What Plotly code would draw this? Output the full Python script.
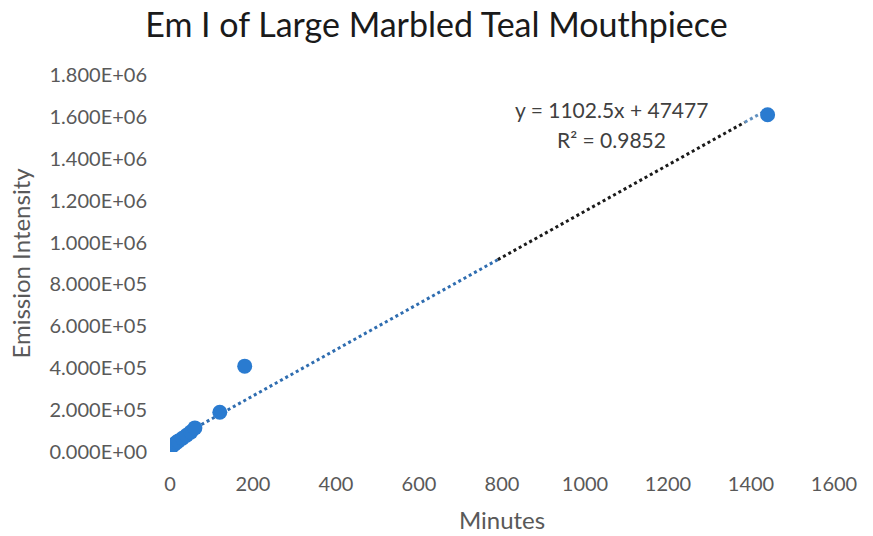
import plotly.graph_objects as go

minutes = [0, 5, 10, 15, 20, 30, 40, 50, 60, 120, 180, 1440]
intensity = [20000, 28000, 36000, 45000, 52000, 66000, 80000, 95000, 115000, 190000, 410000, 1610000]

slope = 1102.5
intercept = 47477
r_squared = 0.9852

y_tickvals = [0, 200000, 400000, 600000, 800000, 1000000, 1200000, 1400000, 1600000, 1800000]
y_ticktext = ["0.000E+00", "2.000E+05", "4.000E+05", "6.000E+05", "8.000E+05",
              "1.000E+06", "1.200E+06", "1.400E+06", "1.600E+06", "1.800E+06"]
x_tickvals = [0, 200, 400, 600, 800, 1000, 1200, 1400, 1600]

FONT = "Lato"
fig = go.Figure()

# trendline segments (color varies along the line in the reference)
segments = [(0, 790, "#2f6db0"), (790, 1385, "#1a1a1a"), (1385, max(minutes), "#5f8fbf")]
for x0, x1, col in segments:
    fig.add_trace(go.Scatter(
        x=[x0, x1], y=[slope * x0 + intercept, slope * x1 + intercept],
        mode="lines", line=dict(color=col, width=3, dash="dot"),
        hoverinfo="skip", showlegend=False))

fig.add_trace(go.Scatter(
    x=minutes, y=intensity, mode="markers",
    marker=dict(color="#2a7bd0", size=15),
    showlegend=False))

fig.add_annotation(x=1064, y=1.635e6, xref="x", yref="y",
                   text=f"y = {slope}x + {intercept}", showarrow=False,
                   font=dict(family=FONT, size=21, color="#404040"))
fig.add_annotation(x=1064, y=1.49e6, xref="x", yref="y",
                   text=f"R² = {r_squared}", showarrow=False,
                   font=dict(family=FONT, size=21, color="#404040"))

fig.update_layout(
    width=873, height=536,
    margin=dict(l=170, r=39, t=75, b=84),
    paper_bgcolor="white", plot_bgcolor="white",
    title=dict(text="Em I of Large Marbled Teal Mouthpiece", x=0.5, xanchor="center",
               y=0.953, yanchor="middle",
               font=dict(family=FONT, size=34, color="#1a1a1a")),
    xaxis=dict(range=[0, 1600], tickvals=x_tickvals, showgrid=False, zeroline=False,
               showline=False, ticks="", ticklabelstandoff=18, automargin=False,
               tickfont=dict(family=FONT, size=20, color="#595959"),
               title=dict(text="Minutes", font=dict(family=FONT, size=24, color="#595959"),
                          standoff=18)),
    yaxis=dict(range=[0, 1800000], tickvals=y_tickvals, ticktext=y_ticktext,
               showgrid=False, zeroline=False, showline=False, ticks="", automargin=False,
               ticklabelstandoff=22,
               tickfont=dict(family=FONT, size=20, color="#595959"),
               title=dict(text="Emission Intensity", font=dict(family=FONT, size=24, color="#595959"),
                          standoff=12)),
)

fig.write_html("out.html")
